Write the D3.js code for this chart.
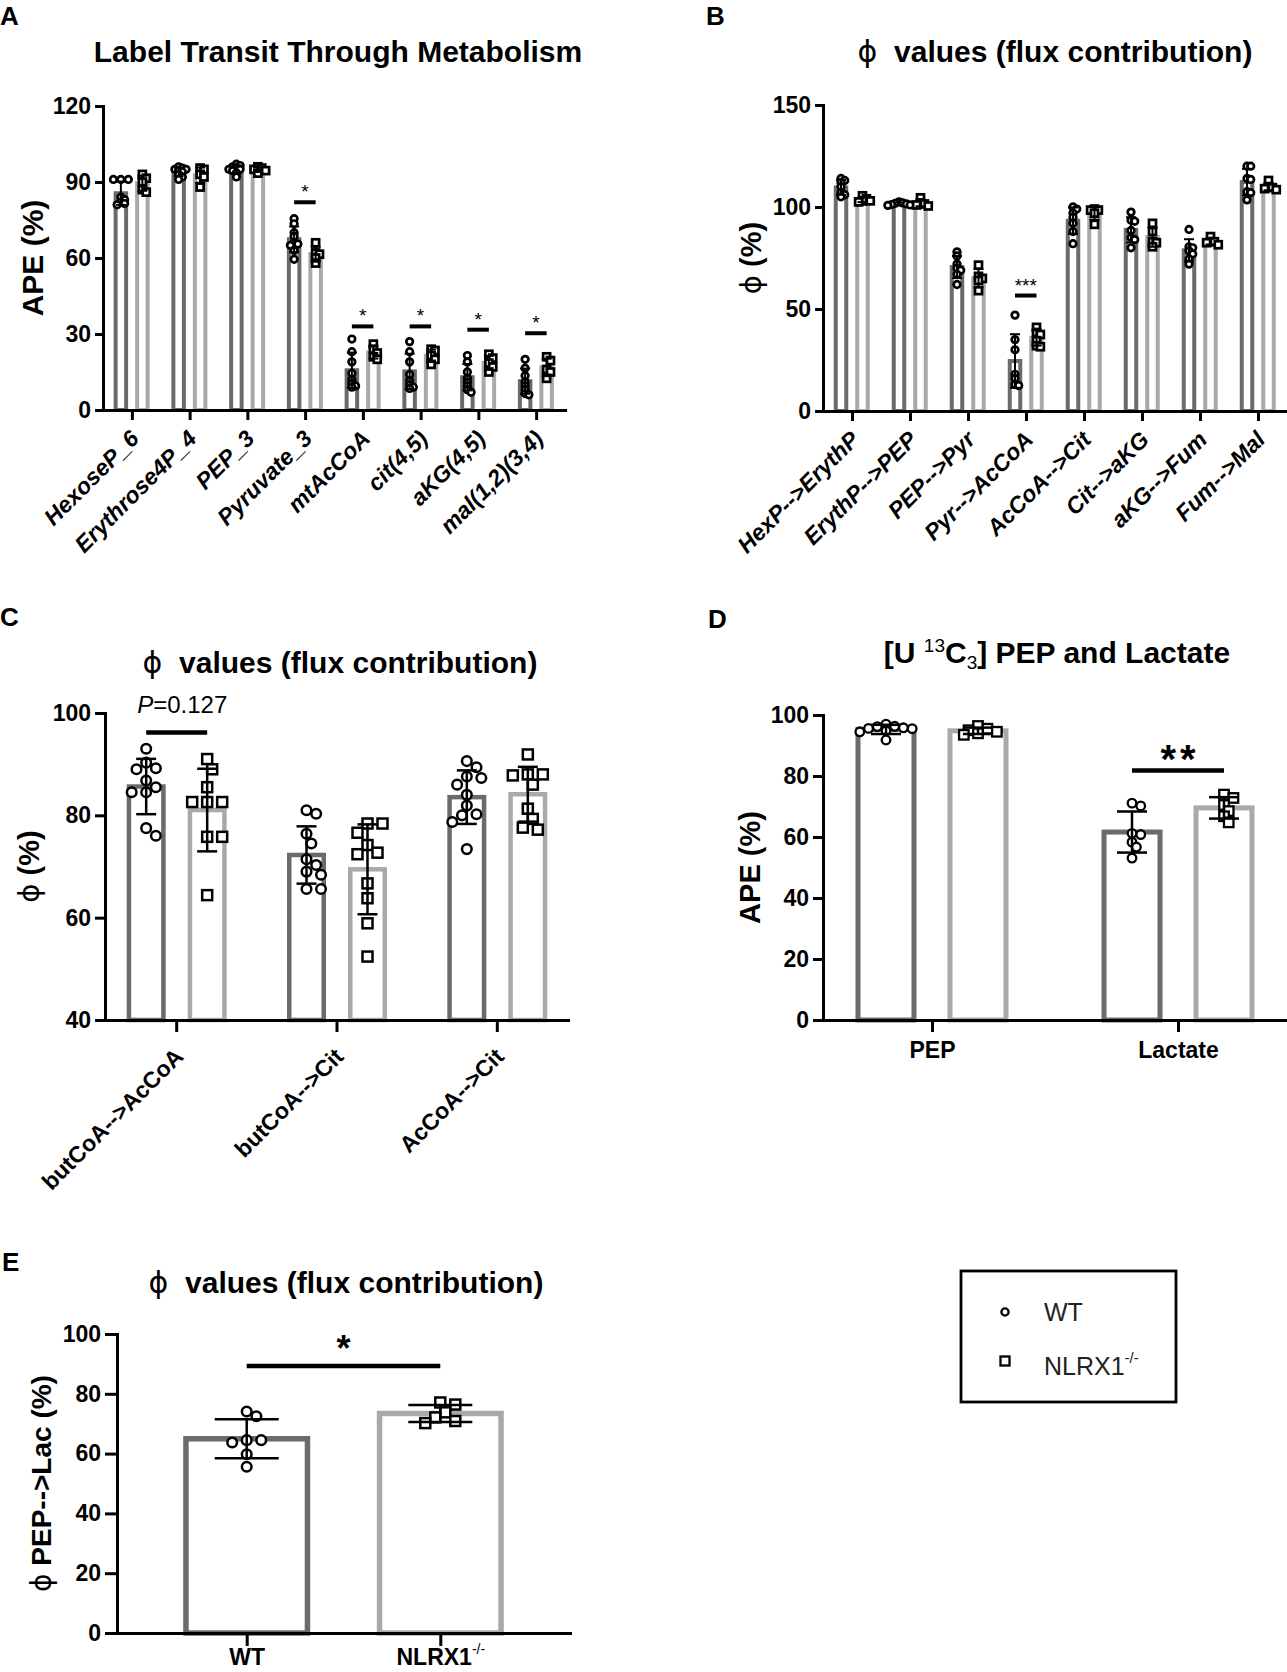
<!DOCTYPE html>
<html><head><meta charset="utf-8">
<script src="https://cdn.jsdelivr.net/npm/d3@7"></script>
<style>body{margin:0;background:#fff}</style>
</head><body><script>
// ---------------- DATA ----------------
const aCats=["HexoseP_6","Erythrose4P_4","PEP_3","Pyruvate_3","mtAcCoA","cit(4,5)","aKG(4,5)","mal(1,2)(3,4)"];
const aTicks=[0,30,60,90,120];
const aWT=[
 [91,91,91,84,83,82,81,81.5],
 [96,95.5,95,95,94.5,94,93,92,91],
 [97,96.5,96,95.5,95,95,94.5,93.5,92],
 [75.5,73.5,70,68.5,66,65.5,65,63,59.5],
 [28,23,19,14.5,12,10.5,9,9.5],
 [27,23,19,14,11.5,10,9,8.5],
 [21.5,19,15,12.5,11,9.5,8,7],
 [20,16.5,13.5,11,9.5,8,6.5,6]
];
const aKO=[
 [93,91.5,90,87,86],
 [95.5,95,93,92,88],
 [96,95.5,95,94.5,93.5],
 [66,62,61.5,60,58],
 [26,24,22.5,21,20],
 [24,23.5,21.5,20,18],
 [22,20.5,18.5,17,15],
 [21,19.5,16,15,12.5]
];
const aSig=[["Pyruvate_3",82,"*"],["mtAcCoA",33,"*"],["cit(4,5)",33,"*"],["aKG(4,5)",31.7,"*"],["mal(1,2)(3,4)",30.3,"*"]];

const bCats=["HexP-->ErythP","ErythP-->PEP","PEP-->Pyr","Pyr-->AcCoA","AcCoA-->Cit","Cit-->aKG","aKG-->Fum","Fum-->Mal"];
const bTicks=[0,50,100,150];
const bWT=[
 [114,113,112,110,107,106,105],
 [102.5,102,101.8,101.5,101.2,101,100.8],
 [78,76,72,70,69,67,62],
 [47,35,30,18,16,13,12.5],
 [100,99,97,95,92,88,82],
 [97.5,93.5,93,88.5,85,84,80],
 [89,80.5,80,78.5,77,74.5,72],
 [120,120,114,113.5,107,107.5,103.5]
];
const bKO=[
 [105.5,104,103,103,102.5],
 [104.5,102,101.5,101,100.5],
 [71.5,66,65,64,59],
 [41,38.5,37.5,34.5,32,31.5],
 [99,98.5,98.5,97,91.5],
 [92,88,83,82.5,80.5],
 [85.5,83,82.5,81.5,83],
 [113,110,109.5,109,108.5]
];
const bSig=[["Pyr-->AcCoA",56.6,"***"]];

const cCats=["butCoA-->AcCoA","butCoA-->Cit","AcCoA-->Cit"];
const cTicks=[40,60,80,100];
const cWT=[
 [93,90.3,89.2,89,86.8,85.5,84.5,84.5,77.5,76],
 [81,80.3,76.4,74.5,71.4,70.3,69,68.4,65.6,65.6],
 [90.6,89.4,87.6,87.3,86,84,81.9,80.2,80,78.7,73.4]
];
const cKO=[
 [91,89,85.5,82.6,82.6,82.6,75.8,75.8,64.4],
 [78.4,78.4,76.6,74.2,72.7,72.4,66.7,63.8,58.9,52.4],
 [91.9,88,88,87.8,86,81.3,79.3,77.6,77.2]
];
const cSig=[["butCoA-->AcCoA",96.2,"P=0.127"]];

const dCats=["PEP","Lactate"];
const dTicks=[0,20,40,60,80,100];
const dWT=[
 [97,96.3,96.2,95.8,95.6,95.5,94.8,94.5,91.8],
 [71.1,70.2,61.2,60.8,58.3,56.7,53.1]
];
const dKO=[
 [96.4,95.5,95,94.5,94,93.5],
 [73.9,72.8,70.5,68.5,66.8,64.8]
];
const dSig=[["Lactate",81.8,"**"]];

const eCats=["WT","NLRX1-/-"];
const eTicks=[0,20,40,60,80,100];
const eWT=[74.1,72.5,64.5,64.5,63.7,59.8,55.6];
const eKO=[77.1,76.4,73.8,72.1,70.9,70.2];
const eSig=[["WT","NLRX1-/-",89.3,"*"]];

// ---------------- DRAWING ----------------
const FONT='"Liberation Sans", Arial, Helvetica, sans-serif';
const PHI_FONT='"DejaVu Sans", sans-serif';
const WT_COLOR="#6b6b6b", KO_COLOR="#a9a9a9";
const svg=d3.select("body").append("svg").attr("width",1287).attr("height",1672)
  .style("background","#fff").style("display","block");

function beeswarm(values, cx, y, dia, tight){
  const pts=values.map(v=>({v,py:y(v)})).sort((a,b)=>a.py-b.py);
  const placed=[]; const step=dia*0.4;
  pts.forEach(p=>{
    for(let k=0;k<60;k++){
      const off=k===0?0:(k%2===1?1:-1)*Math.ceil(k/2)*step;
      const x=cx+off;
      if(placed.every(q=>Math.hypot(q.x-x,q.py-p.py)>=dia*tight)){p.x=x;break;}
    }
    placed.push(p);
  });
  return placed;
}

function drawPanel(o){
  const g=svg.append("g");
  const y=d3.scaleLinear().domain(o.domain).range([o.yb,o.yt]);
  const x=d3.scalePoint().domain(o.cats).range([o.x0,o.x1]).padding(o.pad);
  const groups=o.groups(x);
  // bars
  groups.forEach(gr=>{
    const m=d3.mean(gr.values);
    g.append("rect")
      .attr("x",gr.cx-(o.bw-o.sw)/2).attr("width",o.bw-o.sw)
      .attr("y",y(m)).attr("height",o.yb-y(m))
      .attr("fill","#fff").attr("stroke",gr.color).attr("stroke-width",o.sw);
  });
  // axes
  const ya=g.append("g").attr("transform",`translate(${o.x0},0)`)
    .call(d3.axisLeft(y).tickValues(o.ticks).tickSize(o.yTick).tickSizeOuter(0).tickPadding(4));
  const xa=g.append("g").attr("transform",`translate(0,${o.yb})`)
    .call(d3.axisBottom(x).tickSize(o.xTick).tickSizeOuter(0));
  [ya,xa].forEach(a=>{
    a.select(".domain").attr("stroke","#000").attr("stroke-width",3).attr("stroke-linecap","square");
    a.selectAll(".tick line").attr("stroke","#000").attr("stroke-width",3);
  });
  ya.selectAll(".tick text").attr("font-size",23).attr("font-weight","bold").attr("font-family",FONT).attr("fill","#000");
  const xt=xa.selectAll(".tick text").attr("font-size",23).attr("font-weight","bold").attr("font-family",FONT).attr("fill","#000");
  if(o.rotate){
    xt.attr("x",0).attr("y",0).attr("dy",0).attr("text-anchor","end")
      .attr("font-style",o.italic?"italic":"normal")
      .attr("transform",`translate(${o.lblDx},${o.lblDy}) rotate(-45)`);
  } else {
    xt.attr("y",o.lblDy).attr("dy",0);
  }
  if(o.labelFix) xt.each(o.labelFix);
  // points
  groups.forEach(gr=>{
    const dia=(gr.shape==="circle"?2*o.r:o.side)+o.msw;
    const pts=beeswarm(gr.values,gr.cx,y,dia,o.tight);
    pts.forEach(p=>{
      if(gr.shape==="circle"){
        g.append("circle").attr("cx",p.x).attr("cy",p.py).attr("r",o.r)
          .attr("fill","#fff").attr("stroke","#000").attr("stroke-width",o.msw);
      } else {
        g.append("rect").attr("x",p.x-o.side/2).attr("y",p.py-o.side/2)
          .attr("width",o.side).attr("height",o.side)
          .attr("fill","#fff").attr("stroke","#000").attr("stroke-width",o.msw);
      }
    });
  });
  // error bars (mean ± SD)
  groups.forEach(gr=>{
    const m=d3.mean(gr.values), sd=d3.deviation(gr.values);
    const eb=g.append("g").attr("stroke","#000").attr("stroke-width",o.esw);
    eb.append("line").attr("x1",gr.cx).attr("x2",gr.cx).attr("y1",y(m-sd)).attr("y2",y(m+sd));
    [m-sd,m+sd].forEach(v=>eb.append("line").attr("x1",gr.cx-o.cap).attr("x2",gr.cx+o.cap).attr("y1",y(v)).attr("y2",y(v)));
  });
  // significance
  if(o.sig) o.sig(g,x,y);
  // title
  const t=svg.append("text").attr("x",o.title.x).attr("y",o.title.y).attr("text-anchor","middle")
    .attr("font-family",FONT).attr("font-weight","bold").attr("font-size",30).attr("fill","#000");
  o.title.build(t);
  // y label
  const yl=svg.append("text").attr("transform",`translate(${o.ylab.x},${(o.yb+o.yt)/2}) rotate(-90)`)
    .attr("text-anchor","middle").attr("dominant-baseline","central")
    .attr("font-family",FONT).attr("font-weight","bold").attr("font-size",o.ylab.size).attr("fill","#000");
  o.ylab.build(yl);
  // letter
  svg.append("text").attr("x",o.letter.x).attr("y",o.letter.y).text(o.letter.t)
    .attr("font-family",FONT).attr("font-weight","bold").attr("font-size",26).attr("fill","#000");
}

function phiTitle(t){
  t.append("tspan").attr("font-family",PHI_FONT).attr("font-weight","normal").text("\u03D5");
  t.append("tspan").text("\u00A0 values (flux contribution)");
}
function phiLabel(rest){
  return function(t){
    t.append("tspan").attr("font-family",PHI_FONT).attr("font-weight","normal").text("\u03D5");
    t.append("tspan").text(" "+rest);
  };
}
function pairGroups(cats,wt,ko,offW,offK){
  return x=>cats.flatMap((c,i)=>[
    {cx:x(c)+offW,values:wt[i],color:WT_COLOR,shape:"circle"},
    {cx:x(c)+offK,values:ko[i],color:KO_COLOR,shape:"square"}
  ]);
}
function smallStars(list,offW,offK,lw){
  return (g,x,y)=>list.forEach(([c,v,s])=>{
    g.append("line").attr("x1",x(c)+offW).attr("x2",x(c)+offK).attr("y1",y(v)).attr("y2",y(v))
      .attr("stroke","#000").attr("stroke-width",lw);
    g.append("text").attr("x",x(c)+(offW+offK)/2).attr("y",y(v)-4).attr("text-anchor","middle")
      .attr("font-family",FONT).attr("font-size",19).text(s);
  });
}

// Panel A
drawPanel({
  cats:aCats,domain:[0,120],ticks:aTicks,x0:103,x1:565,yb:410,yt:106,pad:0.5,
  groups:pairGroups(aCats,aWT,aKO,-11,10.5),bw:14.5,sw:4,r:3.3,side:7,msw:2.7,esw:2,cap:5,tight:0.4,
  yTick:8,xTick:10,rotate:true,italic:true,lblDx:8,lblDy:30,
  sig:smallStars(aSig,-11,10.5,4),
  title:{x:338,y:62,build:t=>t.text("Label Transit Through Metabolism")},
  ylab:{x:32,size:30,build:t=>t.text("APE (%)")},
  letter:{x:0,y:25,t:"A"}
});
// Panel B
drawPanel({
  cats:bCats,domain:[0,150],ticks:bTicks,x0:823,x1:1287,yb:411,yt:105,pad:0.5,
  groups:pairGroups(bCats,bWT,bKO,-11,10.5),bw:14.5,sw:4,r:3.3,side:7,msw:2.7,esw:2,cap:5,tight:0.4,
  yTick:8,xTick:10,rotate:true,italic:true,lblDx:8,lblDy:30,
  sig:smallStars(bSig,-11,10.5,4),
  title:{x:1055,y:62,build:phiTitle},
  ylab:{x:751,size:29,build:phiLabel("(%)")},
  letter:{x:706,y:25,t:"B"}
});
// Panel C
drawPanel({
  cats:cCats,domain:[40,100],ticks:cTicks,x0:105,x1:568,yb:1020,yt:713,pad:0.444,
  groups:pairGroups(cCats,cWT,cKO,-30,31),bw:39,sw:4.5,r:4.8,side:10,msw:2.5,esw:2.5,cap:10,tight:0.85,
  yTick:10,xTick:12,rotate:true,italic:false,lblDx:8,lblDy:38,
  sig:(g,x,y)=>cSig.forEach(([c,v,s])=>{
    g.append("line").attr("x1",x(c)-30).attr("x2",x(c)+31).attr("y1",y(v)).attr("y2",y(v))
      .attr("stroke","#000").attr("stroke-width",4.5);
    const t=g.append("text").attr("x",x(c)-39).attr("y",y(v)-19)
      .attr("font-family",FONT).attr("font-size",24).attr("fill","#000");
    const parts=s.split("=");
    t.append("tspan").attr("font-style","italic").text(parts[0]);
    t.append("tspan").text("="+parts[1]);
  }),
  title:{x:340,y:673,build:phiTitle},
  ylab:{x:29,size:29,build:phiLabel("(%)")},
  letter:{x:0,y:626,t:"C"}
});
// Panel D
drawPanel({
  cats:dCats,domain:[0,100],ticks:dTicks,x0:823,x1:1287,yb:1020,yt:715,pad:0.443,
  groups:pairGroups(dCats,dWT,dKO,-46,46),bw:61,sw:5,r:4.3,side:9.5,msw:2.3,esw:2.5,cap:15,tight:0.55,
  yTick:10,xTick:12,rotate:false,lblDy:38,
  sig:(g,x,y)=>dSig.forEach(([c,v,s])=>{
    g.append("line").attr("x1",x(c)-46).attr("x2",x(c)+46).attr("y1",y(v)).attr("y2",y(v))
      .attr("stroke","#000").attr("stroke-width",4.5);
    g.append("text").attr("x",x(c)+2).attr("y",y(v)+2).attr("text-anchor","middle")
      .attr("font-family",FONT).attr("font-weight","bold").attr("font-size",40)
      .attr("letter-spacing",4).text(s);
  }),
  title:{x:1057,y:663,build:t=>{
    t.append("tspan").text("[U ");
    t.append("tspan").attr("font-size",19).attr("font-weight","normal").attr("dy",-11).text("13");
    t.append("tspan").attr("dy",11).text("C");
    t.append("tspan").attr("font-size",19).attr("font-weight","normal").attr("dy",6).text("3");
    t.append("tspan").attr("dy",-6).text("] PEP and Lactate");
  }},
  ylab:{x:750,size:29,build:t=>t.text("APE (%)")},
  letter:{x:708,y:628,t:"D"}
});
// Panel E
drawPanel({
  cats:eCats,domain:[0,100],ticks:eTicks,x0:117,x1:570,yb:1633,yt:1334,pad:0.67,
  groups:x=>[
    {cx:x("WT"),values:eWT,color:WT_COLOR,shape:"circle"},
    {cx:x("NLRX1-/-"),values:eKO,color:KO_COLOR,shape:"square"}
  ],bw:127,sw:5.5,r:4.8,side:10,msw:2.5,esw:2.5,cap:32,tight:0.85,
  yTick:12,xTick:13,rotate:false,lblDy:32,
  labelFix:function(d){
    if(d==="NLRX1-/-"){
      const t=d3.select(this).text("NLRX1");
      t.append("tspan").attr("font-size",14).attr("font-weight","normal").attr("dy",-11).text("-/-");
    }
  },
  sig:(g,x,y)=>eSig.forEach(([c1,c2,v,s])=>{
    g.append("line").attr("x1",x(c1)).attr("x2",x(c2)).attr("y1",y(v)).attr("y2",y(v))
      .attr("stroke","#000").attr("stroke-width",4.5);
    g.append("text").attr("x",(x(c1)+x(c2))/2).attr("y",y(v)-5).attr("text-anchor","middle")
      .attr("font-family",FONT).attr("font-weight","bold").attr("font-size",36).text(s);
  }),
  title:{x:346,y:1293,build:phiTitle},
  ylab:{x:41,size:28,build:phiLabel("PEP-->Lac (%)")},
  letter:{x:2,y:1271,t:"E"}
});

// Legend
const lg=svg.append("g");
lg.append("rect").attr("x",961).attr("y",1271).attr("width",215).attr("height",131)
  .attr("fill","none").attr("stroke","#000").attr("stroke-width",2.8);
lg.append("circle").attr("cx",1005).attr("cy",1312).attr("r",3.6).attr("fill","#fff").attr("stroke","#000").attr("stroke-width",2.3);
lg.append("rect").attr("x",1000.5).attr("y",1356.5).attr("width",9).attr("height",9).attr("fill","#fff").attr("stroke","#000").attr("stroke-width",2.3);
lg.append("text").attr("x",1044).attr("y",1321).attr("font-family",FONT).attr("font-size",25).attr("fill","#222").text("WT");
const lt=lg.append("text").attr("x",1044).attr("y",1375).attr("font-family",FONT).attr("font-size",25).attr("fill","#222").text("NLRX1");
lt.append("tspan").attr("font-size",15).attr("dy",-12).text("-/-");
</script></body></html>
